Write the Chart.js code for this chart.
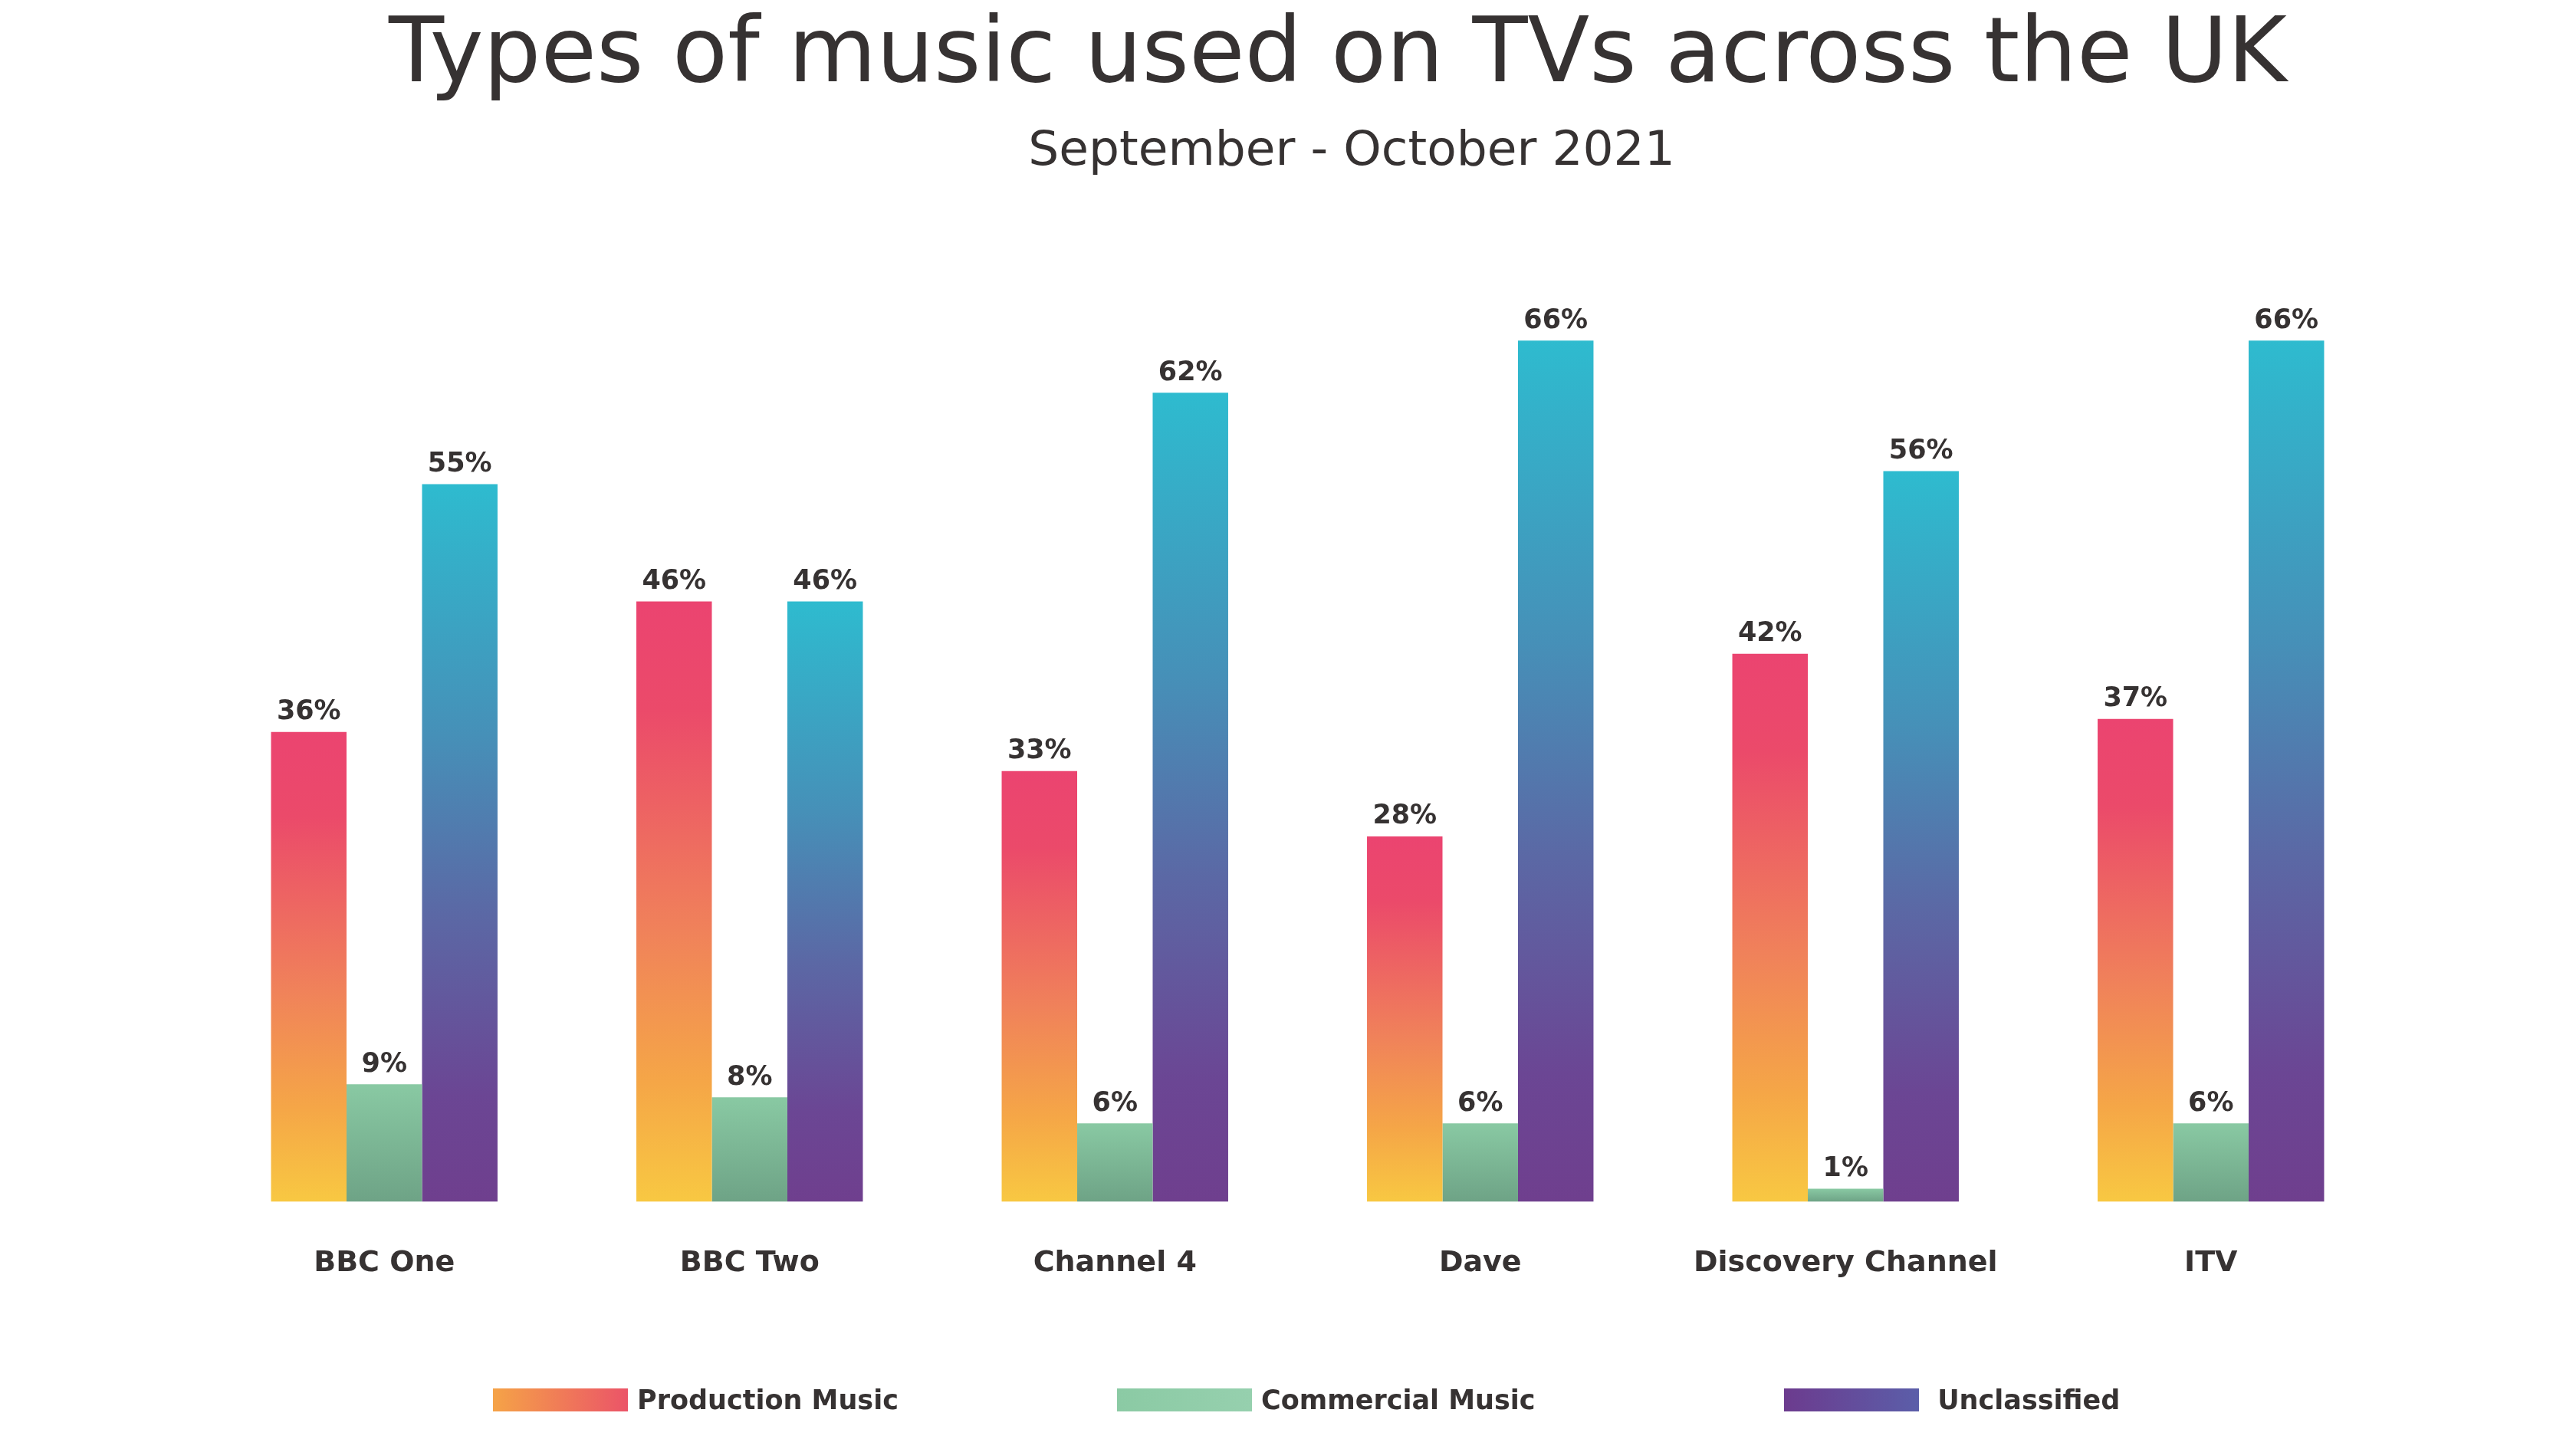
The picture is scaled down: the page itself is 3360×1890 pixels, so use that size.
<!DOCTYPE html>
<html>
<head>
<meta charset="utf-8">
<script src="https://cdn.jsdelivr.net/npm/chart.js@4"></script>
<style>
    html, body { margin: 0; padding: 0; background: #fff; }
    #wrap { position: relative; width: 3360px; height: 1890px; }
    .head { position: absolute; transform: translateX(-50%); white-space: nowrap; line-height: 1;
            font-family: 'DejaVu Sans', sans-serif; color: #363232; }
    .legend { position: absolute; top: 1806px; display: flex; align-items: center;
              font-family: 'DejaVu Sans', sans-serif; font-weight: bold; font-size: 35px; color: #363232; }
    .legend span.sw { display: inline-block; width: 176px; height: 30px; margin-right: 12px; }
</style>
</head>
<body>
<div id="wrap">
    <canvas id="chart"></canvas>
    <div class="head" style="left:1745px; top:6px; font-size:118px">Types of music used on TVs across the UK</div>
    <div class="head" style="left:1763px; top:162px; font-size:63px">September - October 2021</div>
    <div class="legend" style="left:643px"><span class="sw" style="background:linear-gradient(to right,#F5A347,#EB5468)"></span>Production Music</div>
    <div class="legend" style="left:1457px"><span class="sw" style="background:linear-gradient(to right,#8BCAA4,#96D0AE)"></span>Commercial Music</div>
    <div class="legend" style="left:2327px"><span class="sw" style="background:linear-gradient(to right,#6C3B8E,#5B5EA9)"></span>&nbsp;Unclassified</div>
</div>
<script>
// --- Datos ---
const channels = ['BBC One', 'BBC Two', 'Channel 4', 'Dave', 'Discovery Channel', 'ITV'];
const production = [36, 46, 33, 28, 42, 37];
const commercial = [9, 8, 6, 6, 1, 6];
const unclassified = [55, 46, 62, 66, 56, 66];

const textColor = '#363232';

// Gradiente vertical por barra (de la cima a la base)
function barGradient(stops) {
    return (c) => {
        const chart = c.chart;
        if (!chart.chartArea || c.type !== 'data') return stops[0][1];
        const y = chart.scales.y;
        const top = y.getPixelForValue(c.raw);
        const base = y.getPixelForValue(0);
        const g = chart.ctx.createLinearGradient(0, top, 0, base);
        stops.forEach(([o, col]) => g.addColorStop(o, col));
        return g;
    };
}

// Etiquetas de valor encima de cada barra
const valueLabels = {
    id: 'valueLabels',
    afterDatasetsDraw(chart) {
        const ctx = chart.ctx;
        ctx.save();
        ctx.font = 'bold 35px "DejaVu Sans"';
        ctx.fillStyle = textColor;
        ctx.textAlign = 'center';
        ctx.textBaseline = 'bottom';
        chart.data.datasets.forEach((ds, i) => {
            chart.getDatasetMeta(i).data.forEach((bar, j) => {
                ctx.fillText(ds.data[j] + '%', bar.x, bar.y - 8);
            });
        });
        ctx.restore();
    }
};

new Chart(document.getElementById('chart'), {
    type: 'bar',
    data: {
        labels: channels,
        datasets: [
            {
                label: 'Production Music',
                data: production,
                backgroundColor: barGradient([[0, '#EB4470'], [0.18, '#EB4A6A'], [0.55, '#F0825A'], [0.8, '#F5A647'], [1, '#F8C842']])
            },
            {
                label: 'Commercial Music',
                data: commercial,
                backgroundColor: barGradient([[0, '#89C9A3'], [1, '#6EA386']])
            },
            {
                label: 'Unclassified',
                data: unclassified,
                backgroundColor: barGradient([[0, '#2EBBCF'], [0.35, '#4690B8'], [0.6, '#5B68A5'], [0.85, '#6B4694'], [1, '#6F3F8E']])
            }
        ]
    },
    options: {
        responsive: true,
        maintainAspectRatio: false,
        animation: false,
        categoryPercentage: 0.62,
        barPercentage: 1.0,
        layout: { padding: { left: 263, right: 238, top: 257, bottom: 161 } },
        plugins: {
            legend: { display: false },
            tooltip: { enabled: false }
        },
        scales: {
            x: {
                grid: { display: false, drawTicks: false },
                border: { display: false },
                ticks: {
                    color: textColor,
                    padding: 58,
                    font: { family: 'DejaVu Sans', size: 38, weight: 'bold' }
                }
            },
            y: {
                display: false,
                min: 0,
                max: 77
            }
        }
    },
    plugins: [valueLabels]
});
</script>
</body>
</html>
